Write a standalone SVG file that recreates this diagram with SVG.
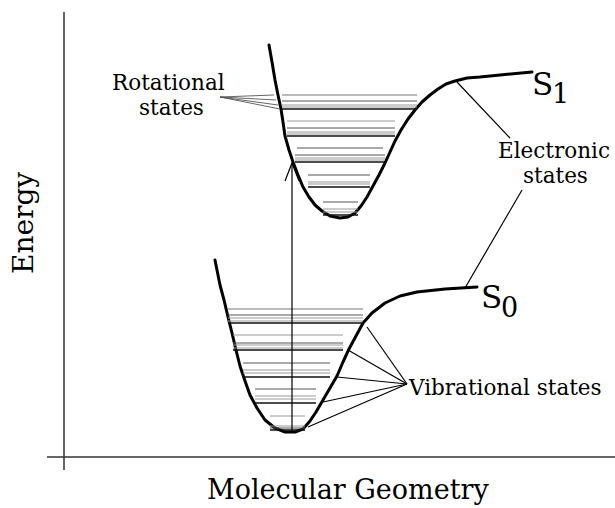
<svg xmlns="http://www.w3.org/2000/svg" width="615" height="508" viewBox="0 0 615 508">
<style>
.curve{fill:none;stroke:#000;stroke-width:3;stroke-linejoin:round;stroke-linecap:round}
.axis{stroke:#333;stroke-width:1.5;fill:none}
.lead{stroke:#000;stroke-width:1.2;fill:none}
.rlead{stroke:#555;stroke-width:0.9;fill:none}
.l1{stroke:#777;stroke-width:1}
.l2{stroke:#555;stroke-width:1}
.l3{stroke:#999;stroke-width:1}
.l4{stroke:#111;stroke-width:1.6}
text{font-family:"DejaVu Serif","Liberation Serif",serif;fill:#000}
.lab{font-size:21.5px}
.ax{font-size:27px}
.en{font-size:28px}
.s{font-size:31px}
.sub{font-size:27px}
</style>
<g id="axes">
<line class="axis" x1="64" y1="12" x2="64" y2="470"/>
<line class="axis" x1="47" y1="457" x2="615" y2="457"/>
<text class="en" transform="translate(33,274) rotate(-90)">Energy</text>
<text class="ax" x="207" y="499">Molecular Geometry</text>
</g>
<g id="S1">
<polyline class="curve" points="269,45 272,62 275,80 278,95 281,109 283,122 285,136 289,150 293,162 298,175 303,187 309,197 315,205 322,211 330,216 340,218 348,217 355,213 361,206 367,197 373,186 379,175 385,163 390,152 395,141 401,130 408,119 415,110 422,102 430,95 438,89 446,84 455,81 467,78 480,77 500,75 532,72"/>
<text class="s" x="532" y="95">S</text><text class="sub" x="552" y="103">1</text>
</g>
<g id="S1-levels">
<line class="l1" x1="282" y1="95" x2="417" y2="95"/>
<line class="l2" x1="282" y1="101" x2="417" y2="101"/>
<line class="l3" x1="282" y1="105" x2="417" y2="105"/>
<line class="l3" x1="282" y1="107" x2="417" y2="107"/>
<line class="l4" x1="282" y1="109" x2="417" y2="109"/>
<line class="l3" x1="287" y1="121" x2="395" y2="121"/>
<line class="l2" x1="287" y1="128" x2="395" y2="128"/>
<line class="l3" x1="287" y1="132" x2="395" y2="132"/>
<line class="l3" x1="287" y1="134" x2="395" y2="134"/>
<line class="l4" x1="287" y1="136" x2="395" y2="136"/>
<line class="l2" x1="297" y1="148" x2="383" y2="148"/>
<line class="l2" x1="295" y1="155" x2="385" y2="155"/>
<line class="l3" x1="295" y1="158" x2="385" y2="158"/>
<line class="l3" x1="295" y1="160" x2="385" y2="160"/>
<line class="l4" x1="295" y1="162" x2="385" y2="162"/>
<line class="l2" x1="308" y1="175" x2="370" y2="175"/>
<line class="l3" x1="308" y1="182" x2="370" y2="182"/>
<line class="l3" x1="308" y1="184" x2="370" y2="184"/>
<line class="l4" x1="308" y1="187" x2="370" y2="187"/>
<line class="l2" x1="323" y1="202" x2="358" y2="202"/>
<line class="l3" x1="323" y1="209" x2="358" y2="209"/>
<line class="l3" x1="323" y1="212" x2="358" y2="212"/>
<line class="l4" x1="323" y1="215" x2="358" y2="215"/>
</g>
<g id="S0">
<polyline class="curve" points="215,260 220,285 224,300 228,317 232,333 236,350 240,366 245,381 250,395 257,408 265,420 275,428 285,432 295,432 303,429 310,421 316,412 323,400 330,388 337,376 343,362 349,349 356,336 363,323 372,313 385,303 400,296 417,292 445,289 477,287"/>
<text class="s" x="481" y="308">S</text><text class="sub" x="501" y="317">0</text>
</g>
<g id="S0-levels">
<line class="l1" x1="228" y1="309" x2="363" y2="309"/>
<line class="l2" x1="228" y1="315" x2="363" y2="315"/>
<line class="l3" x1="228" y1="318" x2="363" y2="318"/>
<line class="l3" x1="228" y1="321" x2="363" y2="321"/>
<line class="l4" x1="228" y1="323" x2="363" y2="323"/>
<line class="l3" x1="233" y1="335" x2="343" y2="335"/>
<line class="l2" x1="233" y1="343" x2="343" y2="343"/>
<line class="l3" x1="233" y1="345" x2="343" y2="345"/>
<line class="l3" x1="233" y1="348" x2="343" y2="348"/>
<line class="l4" x1="233" y1="350" x2="343" y2="350"/>
<line class="l2" x1="243" y1="363" x2="330" y2="363"/>
<line class="l3" x1="243" y1="370" x2="330" y2="370"/>
<line class="l3" x1="243" y1="373" x2="330" y2="373"/>
<line class="l4" x1="243" y1="377" x2="330" y2="377"/>
<line class="l2" x1="255" y1="389" x2="316" y2="389"/>
<line class="l3" x1="255" y1="396" x2="316" y2="396"/>
<line class="l3" x1="255" y1="399" x2="316" y2="399"/>
<line class="l4" x1="255" y1="403" x2="316" y2="403"/>
<line class="l3" x1="270" y1="416" x2="305" y2="416"/>
<line class="l3" x1="270" y1="426" x2="305" y2="426"/>
<line class="l2" x1="270" y1="428" x2="305" y2="428"/>
<line class="l4" x1="270" y1="430" x2="305" y2="430"/>
</g>
<g id="connectors">
<line class="lead" x1="292" y1="432" x2="292" y2="164"/>
<polyline class="lead" points="285,181 292,163 299,181"/>
<line class="rlead" x1="220" y1="97" x2="274" y2="95"/>
<line class="rlead" x1="220" y1="97" x2="276" y2="100"/>
<line class="rlead" x1="220" y1="97" x2="278" y2="105"/>
<line class="rlead" x1="220" y1="97" x2="280" y2="109"/>
<line class="lead" x1="457" y1="82" x2="510" y2="138"/>
<line class="lead" x1="522" y1="190" x2="465" y2="288"/>
<line class="lead" x1="407" y1="384" x2="367" y2="327"/>
<line class="lead" x1="407" y1="384" x2="348" y2="350"/>
<line class="lead" x1="407" y1="384" x2="337" y2="377"/>
<line class="lead" x1="407" y1="384" x2="323" y2="402"/>
<line class="lead" x1="407" y1="384" x2="308" y2="427"/>
</g>
<g id="labels">
<text class="lab" x="112" y="90">Rotational</text>
<text class="lab" x="139" y="115">states</text>
<text class="lab" x="498" y="158">Electronic</text>
<text class="lab" x="523" y="183">states</text>
<text class="lab" x="409" y="395">Vibrational states</text>
</g>
</svg>
